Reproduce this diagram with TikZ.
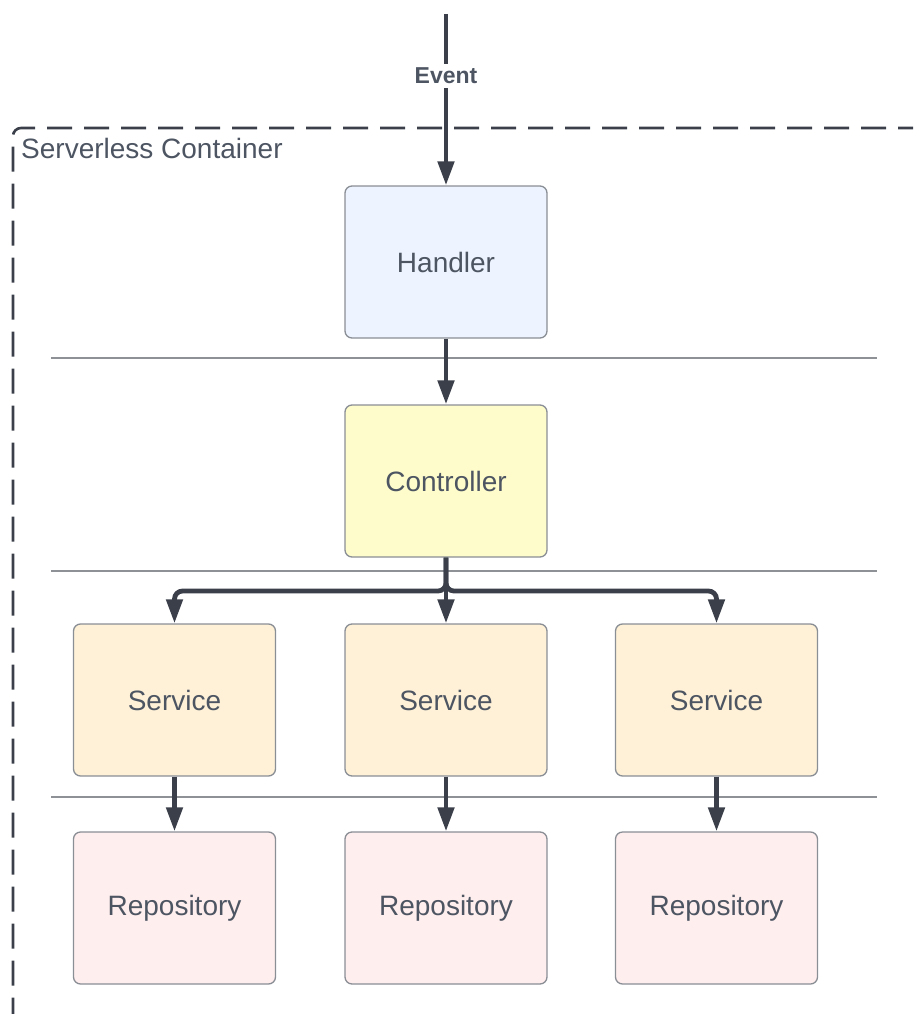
\documentclass[tikz,border=0pt]{standalone}
\usepackage{fontspec}
\setmainfont{Liberation Sans}
\usetikzlibrary{arrows.meta}
\definecolor{inkdark}{HTML}{3A3F4A}
\definecolor{txtgray}{HTML}{4D5562}
\definecolor{edgegray}{HTML}{8A8E95}
\definecolor{rulegray}{HTML}{8E9196}
\definecolor{handlerfill}{HTML}{EDF4FF}
\definecolor{controllerfill}{HTML}{FEFCCB}
\definecolor{servicefill}{HTML}{FEF1D7}
\definecolor{repofill}{HTML}{FFEEEE}
\tikzset{
  x=1pt, y=1pt,
  layerbox/.style={draw=edgegray, line width=1.3pt, rounded corners=7pt,
    minimum width=202pt, minimum height=152pt, inner sep=0pt,
    text=txtgray, font=\fontsize{28}{32}\selectfont},
  flow/.style={draw=inkdark, line width=4.8pt,
    -{Triangle[length=24pt, width=16pt]}},
  divider/.style={draw=rulegray, line width=1.3pt},
  container/.style={draw=inkdark, line width=2.6pt, dash pattern=on 25pt off 12pt,
    rounded corners=8pt},
}
\begin{document}
\begin{tikzpicture}
\useasboundingbox (0,0) rectangle (913,-1014);
\clip (0,0) rectangle (913,-1014);

% outer dashed boundary of the serverless runtime
\draw[container] (960,-128) -- (13,-128) -- (13,-1060);
\node[anchor=west, text=txtgray, font=\fontsize{28}{32}\selectfont, inner sep=0pt]
  (clabel) at (21,-148) {Serverless Container};

% layer dividers
\draw[divider] (51,-358) -- (877,-358);
\draw[divider] (51,-571) -- (877,-571);
\draw[divider] (51,-797) -- (877,-797);

% components
\node[layerbox, fill=handlerfill] (handler) at (446,-262) {Handler};
\node[layerbox, fill=controllerfill] (controller) at (446,-481) {Controller};
\node[layerbox, fill=servicefill] (svc1) at (174.5,-700) {Service};
\node[layerbox, fill=servicefill] (svc2) at (446,-700) {Service};
\node[layerbox, fill=servicefill] (svc3) at (716.5,-700) {Service};
\node[layerbox, fill=repofill] (repo1) at (174.5,-908) {Repository};
\node[layerbox, fill=repofill] (repo2) at (446,-908) {Repository};
\node[layerbox, fill=repofill] (repo3) at (716.5,-908) {Repository};

% incoming event
\coordinate (src) at (446,-14);
\draw[flow] (src) -- (handler.north);
\node[fill=white, text=txtgray, font=\bfseries\fontsize{23}{27}\selectfont,
  inner xsep=2pt, inner ysep=4pt] (event) at (446,-76) {Event};

% call flow between layers
\draw[flow] (handler.south) -- (controller.north);
\coordinate (bus) at (446,-591);
\draw[flow, rounded corners=8pt] (controller.south) -- (bus) -| (svc1.north);
\draw[flow, rounded corners=8pt] (controller.south) -- (bus) -| (svc3.north);
\draw[flow] (controller.south) -- (svc2.north);
\draw[flow] (svc1.south) -- (repo1.north);
\draw[flow] (svc2.south) -- (repo2.north);
\draw[flow] (svc3.south) -- (repo3.north);
\end{tikzpicture}
\end{document}
